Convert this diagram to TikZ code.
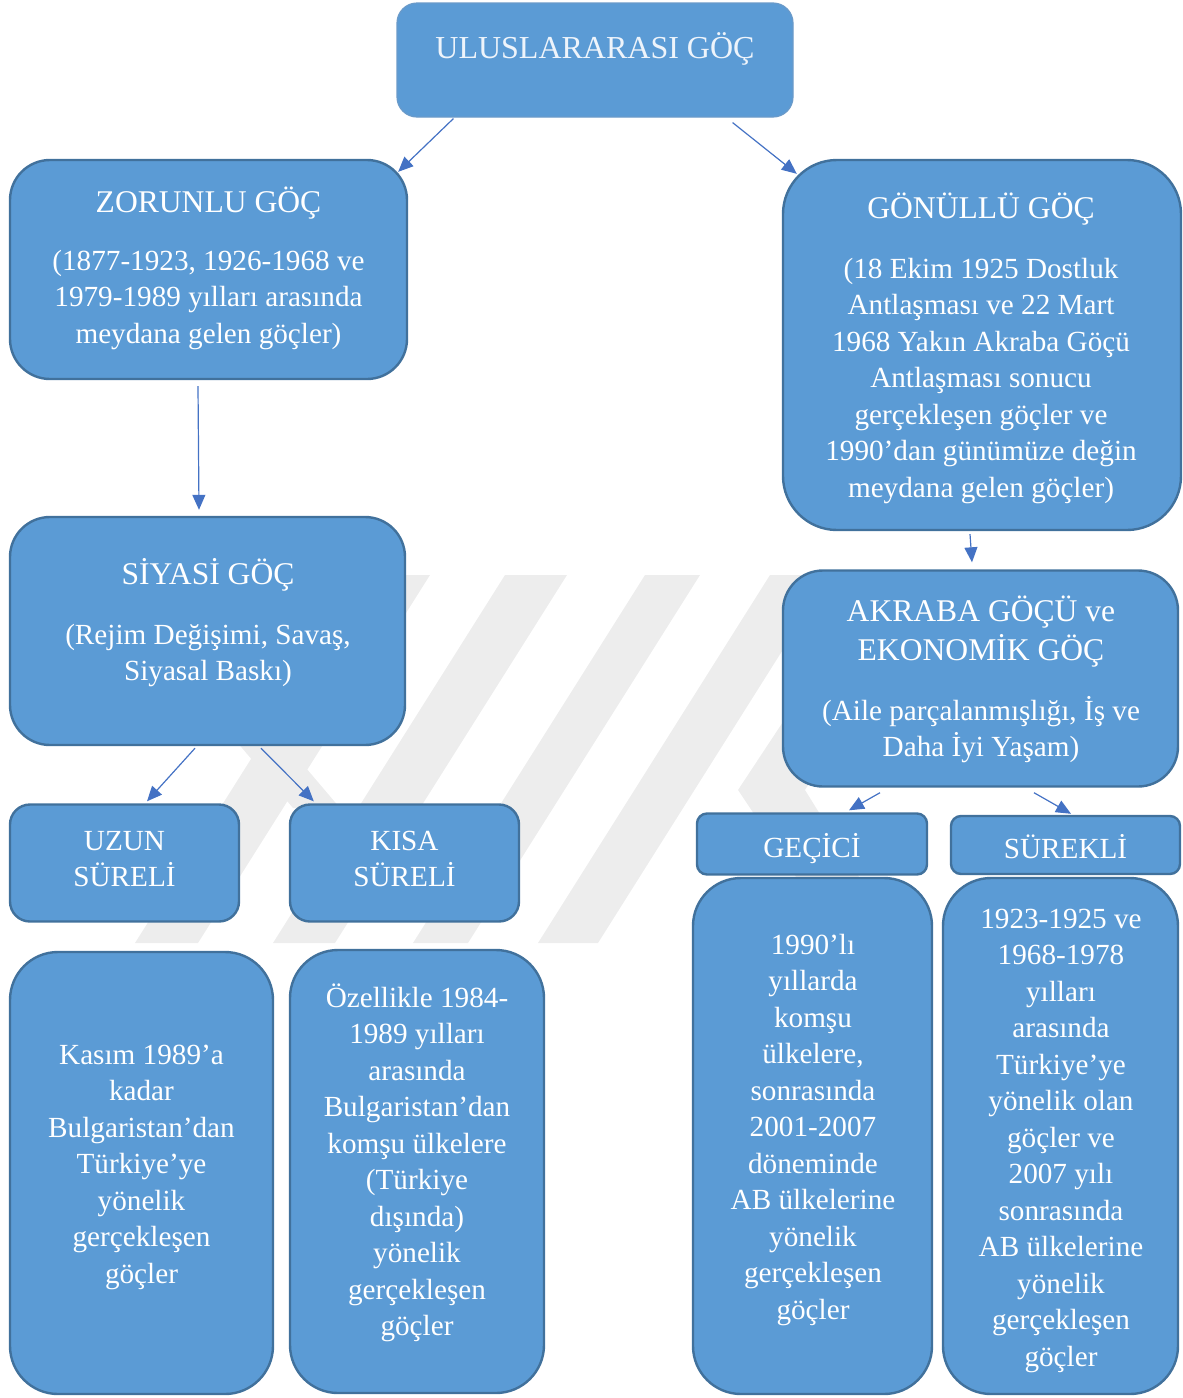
\documentclass[tikz,border=0pt]{standalone}
\usepackage{fontspec}
\setmainfont{Liberation Serif}
\usetikzlibrary{arrows.meta}
\definecolor{boxfill}{HTML}{5B9BD5}
\definecolor{boxline}{HTML}{41719C}
\definecolor{arrcol}{HTML}{4472C4}
\definecolor{wmcol}{HTML}{EDEDED}
\definecolor{titleline}{HTML}{6A9AC9}
\definecolor{titletext}{HTML}{EEF4FB}
\newcommand\fstrut{\rule{0pt}{16pt}}
\tikzset{
  box/.style={draw=boxline, fill=boxfill, line width=1.2pt, inner sep=0pt},
  titlebox/.style={draw=titleline, fill=boxfill, line width=0.6pt, inner sep=0pt},
  hd/.style={text=white, align=center, inner sep=0pt, anchor=north, font=\fontsize{15.8}{19.65}\selectfont},
  bd/.style={text=white, align=center, inner sep=0pt, anchor=north, font=\fontsize{14.6}{18.25}\selectfont},
  ttl/.style={text=titletext, align=center, inner sep=0pt, anchor=north, font=\fontsize{16}{19.6}\selectfont},
  arr/.style={draw=arrcol, line width=0.6pt, -{Triangle[length=7.5pt,width=6.5pt]}},
  wm/.style={fill=wmcol, draw=none}
}
\begin{document}
\begin{tikzpicture}[x=0.5pt,y=-0.5pt]
\useasboundingbox (0,0) rectangle (1183,1398);
% watermark (faint logo)
\fill[wm] (367,575) -- (430,575) -- (198,943) -- (135,943) -- cycle;
\fill[wm] (505,575) -- (567,575) -- (335,943) -- (273,943) -- cycle;
\fill[wm] (645,575) -- (700,575) -- (468,943) -- (413,943) -- cycle;
\fill[wm] (770,575) -- (830,575) -- (598,943) -- (538,943) -- cycle;
\fill[wm] (880,575) -- (940,575) -- (805,790) -- (900,943) -- (840,943) -- (738,790) -- cycle;
\fill[wm] (225,728) -- (272,728) -- (340,808) -- (293,808) -- cycle;
% boxes
\node[titlebox, rounded corners=10pt, minimum width=198pt, minimum height=57pt] (title) at (595,60) {};
\node[box, rounded corners=20pt, minimum width=198.5pt, minimum height=109.5pt] (zor) at (208.5,269.5) {};
\node[box, rounded corners=27pt, minimum width=199pt, minimum height=185pt] (gon) at (982,345) {};
\node[box, rounded corners=20pt, minimum width=197.5pt, minimum height=114pt] (siy) at (207.5,631) {};
\node[box, rounded corners=20pt, minimum width=197.5pt, minimum height=108pt] (akr) at (980.5,678.5) {};
\node[box, rounded corners=10pt, minimum width=114.5pt, minimum height=58.5pt] (uzun) at (124.5,863) {};
\node[box, rounded corners=10pt, minimum width=114.5pt, minimum height=58.5pt] (kisa) at (404.5,863) {};
\node[box, rounded corners=5pt, minimum width=115pt, minimum height=30.5pt] (gec) at (812,844) {};
\node[box, rounded corners=5pt, minimum width=114.5pt, minimum height=29pt] (sur) at (1065.5,845) {};
\node[box, rounded corners=24pt, minimum width=131.5pt, minimum height=221pt] (bl) at (141.5,1173) {};
\node[box, rounded corners=24pt, minimum width=127pt, minimum height=221.5pt] (bk) at (417,1171.5) {};
\node[box, rounded corners=24pt, minimum width=119.5pt, minimum height=258pt] (gect) at (812.5,1136) {};
\node[box, rounded corners=24pt, minimum width=117.5pt, minimum height=258pt] (surt) at (1060.5,1136) {};
% arrows
\draw[arr] ([shift={(57,1)}]title.south west) -- ([shift={(-10,13)}]zor.north east);
\draw[arr] ([shift={(-61,5)}]title.south east) -- ([shift={(15,15)}]gon.north west);
\draw[arr] ([shift={(-10.5,6)}]zor.south) -- ([shift={(-8.5,-6)}]siy.north);
\draw[arr] ([shift={(-12,3)}]gon.south) -- ([shift={(-8.5,-7)}]akr.north);
\draw[arr] ([shift={(-12.5,2)}]siy.south) -- ([shift={(22.5,-2)}]uzun.north);
\draw[arr] ([shift={(53.5,2)}]siy.south) -- ([shift={(25,-2)}]kisa.north west);
\draw[arr] ([shift={(-100.5,5)}]akr.south) -- ([shift={(37,-2)}]gec.north);
\draw[arr] ([shift={(53.5,5)}]akr.south) -- ([shift={(5.5,-1)}]sur.north);
% texts
\node[ttl] (t0) at (595,26.3) {\fstrut ULUSLARARASI GÖÇ};
\node[hd] (t1h) at (208.5,179.7) {\fstrut ZORUNLU GÖÇ};
\node[bd] (t1b) at (208.5,238) {\fstrut(1877-1923, 1926-1968 ve\\1979-1989 yılları arasında\\meydana gelen göçler)};
\node[hd] (t2h) at (981,186) {\fstrut GÖNÜLLÜ GÖÇ};
\node[bd] (t2b) at (981,246) {\fstrut(18 Ekim 1925 Dostluk\\Antlaşması ve 22 Mart\\1968 Yakın Akraba Göçü\\Antlaşması sonucu\\gerçekleşen göçler ve\\1990’dan günümüze değin\\meydana gelen göçler)};
\node[hd] (t3h) at (208,552) {\fstrut SİYASİ GÖÇ};
\node[bd] (t3b) at (208,612) {\fstrut(Rejim Değişimi, Savaş,\\Siyasal Baskı)};
\node[hd] (t4h) at (981,589) {\fstrut AKRABA GÖÇÜ ve\\EKONOMİK GÖÇ};
\node[bd] (t4b) at (981,688) {\fstrut(Aile parçalanmışlığı, İş ve\\Daha İyi Yaşam)};
\node[bd] (t5) at (124.5,818) {\fstrut UZUN\\SÜRELİ};
\node[bd] (t6) at (404.5,818) {\fstrut KISA\\SÜRELİ};
\node[bd] (t7) at (812,825) {\fstrut GEÇİCİ};
\node[bd] (t8) at (1065.5,826.3) {\fstrut SÜREKLİ};
\node[bd] (t9) at (141.5,1032) {\fstrut Kasım 1989’a\\kadar\\Bulgaristan’dan\\Türkiye’ye\\yönelik\\gerçekleşen\\göçler};
\node[bd] (t10) at (417,975) {\fstrut Özellikle 1984-\\1989 yılları\\arasında\\Bulgaristan’dan\\komşu ülkelere\\(Türkiye\\dışında)\\yönelik\\gerçekleşen\\göçler};
\node[bd] (t11) at (813,922) {\fstrut 1990’lı\\yıllarda\\komşu\\ülkelere,\\sonrasında\\2001-2007\\döneminde\\AB ülkelerine\\yönelik\\gerçekleşen\\göçler};
\node[bd] (t12) at (1061,896) {\fstrut 1923-1925 ve\\1968-1978\\yılları\\arasında\\Türkiye’ye\\yönelik olan\\göçler ve\\2007 yılı\\sonrasında\\AB ülkelerine\\yönelik\\gerçekleşen\\göçler};
\end{tikzpicture}
\end{document}
